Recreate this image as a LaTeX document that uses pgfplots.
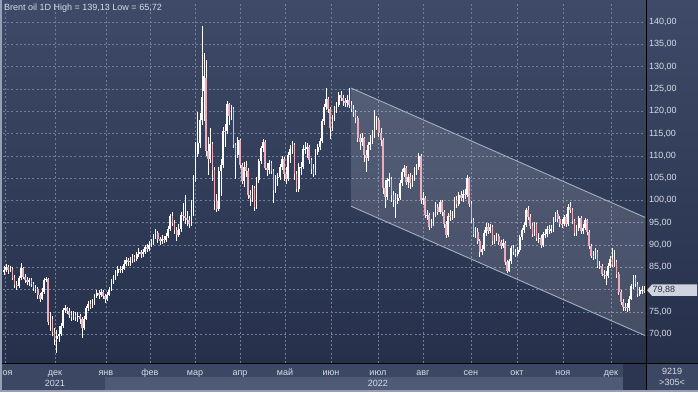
\documentclass[border=0pt]{standalone}
\usepackage{pgfplots}
\usepackage{pgfplotstable}
\pgfplotsset{compat=1.18}
\usepackage{fontspec}
\setmainfont{Liberation Sans}
\definecolor{bgtop}{RGB}{62,74,103}
\definecolor{bgbot}{RGB}{38,48,75}
\definecolor{strip}{RGB}{60,72,99}
\definecolor{scroll}{RGB}{78,90,118}
\definecolor{darkblk}{RGB}{44,54,80}
\definecolor{gridc}{RGB}{112,126,154}
\definecolor{labc}{RGB}{214,220,232}
\definecolor{downc}{RGB}{236,172,188}
\definecolor{chanline}{RGB}{165,174,192}
\definecolor{bordc}{RGB}{150,160,180}
\definecolor{tagc}{RGB}{208,212,222}
\definecolor{tagtext}{RGB}{40,48,70}

\pgfplotstableread{
o h l c
84.0 85.2 83.3 84.4
84.4 85.8 84.0 85.0
85.0 85.5 83.6 84.5
84.5 85.4 83.9 84.7
84.7 85.1 82.1 82.7
82.7 83.2 80.3 81.0
81.0 81.9 79.8 80.8
80.8 83.0 80.4 82.5
82.5 85.9 82.1 84.8
84.8 85.0 82.4 82.9
82.9 83.6 81.5 82.2
82.2 82.9 81.0 81.8
81.8 82.6 80.9 82.1
82.1 82.5 80.6 81.2
81.2 81.7 79.6 80.3
80.3 81.0 79.2 80.2
80.2 80.6 78.0 78.8
78.8 79.3 77.2 78.0
78.0 80.3 77.6 79.5
79.5 82.7 79.1 82.2
82.2 82.9 81.6 82.3
82.3 82.6 72.1 72.7
72.7 74.9 70.7 73.4
73.4 74.0 69.5 70.6
70.6 71.5 67.5 68.9
68.9 71.0 65.7 69.7
69.7 71.8 68.2 70.0
70.0 72.6 69.5 71.9
71.9 75.9 71.5 75.4
75.4 76.6 74.7 75.8
75.8 76.2 74.5 75.2
75.2 75.8 73.6 74.4
74.4 75.1 72.9 73.9
73.9 75.3 73.2 74.4
74.4 75.0 73.0 73.9
73.9 74.9 72.8 74.1
74.1 74.6 72.2 73.5
73.5 73.9 69.2 71.5
71.5 74.0 71.0 73.5
73.5 76.3 73.1 75.8
75.8 77.4 75.2 76.8
76.8 77.6 75.6 76.2
76.2 77.9 75.8 77.0
77.0 79.1 76.6 78.6
78.6 80.0 78.1 79.3
79.3 79.8 78.0 78.9
78.9 80.2 78.4 79.5
79.5 80.0 77.9 78.5
78.5 79.0 77.1 77.8
77.8 79.4 77.4 78.9
78.9 80.6 78.5 80.0
80.0 82.4 79.6 81.9
81.9 83.3 81.3 82.7
82.7 84.3 82.1 83.7
83.7 85.2 83.0 84.7
84.7 85.4 83.7 84.5
84.5 85.3 83.8 84.7
84.7 86.7 84.3 85.8
85.8 87.3 85.2 86.6
86.6 87.0 85.3 86.1
86.1 87.2 85.4 86.5
86.5 88.0 86.0 87.2
87.2 87.8 86.1 86.8
86.8 88.5 86.3 87.9
87.9 89.3 87.4 88.4
88.4 88.9 87.1 87.9
87.9 89.2 87.3 88.5
88.5 90.1 88.0 89.5
89.5 90.3 88.5 89.2
89.2 90.8 88.6 90.1
90.1 91.4 89.6 90.5
90.5 92.5 90.0 91.9
91.9 93.5 91.3 92.6
92.6 93.2 90.5 91.3
91.3 91.9 89.9 90.9
90.9 92.3 90.2 91.4
91.4 92.1 90.4 91.2
91.2 92.8 90.7 92.0
92.0 94.2 91.6 93.5
93.5 97.0 93.1 96.5
96.5 97.3 94.3 95.0
95.0 95.6 92.5 93.3
93.3 94.0 91.0 92.3
92.3 94.6 91.8 93.5
93.5 97.4 93.0 96.8
96.8 99.5 95.3 96.5
96.5 101.3 94.8 96.0
96.0 97.6 94.2 95.5
95.5 96.6 93.7 94.8
94.8 100.0 94.3 97.0
97.0 105.8 96.5 104.9
104.9 113.0 104.2 110.5
110.5 119.8 109.8 112.9
112.9 119.5 111.8 118.1
118.1 139.1 117.0 123.2
124.5 133.0 117.7 128.0
127.5 131.5 110.0 111.1
111.1 114.2 105.6 109.3
109.3 116.2 108.3 112.7
112.7 113.0 104.3 106.9
106.9 107.5 97.8 99.9
99.9 101.5 97.4 98.0
98.0 107.6 97.6 106.6
106.6 109.3 101.0 107.9
107.9 116.4 107.2 115.6
115.6 117.2 111.9 115.5
115.5 122.2 114.9 121.6
121.6 121.9 117.0 119.0
119.0 121.4 118.1 120.6
120.6 120.9 111.8 112.5
112.5 112.8 104.8 110.2
110.2 114.3 109.6 113.5
113.5 113.8 107.2 107.9
107.9 108.3 103.7 104.4
104.4 108.6 102.9 107.5
107.5 108.9 105.3 106.6
106.6 107.2 100.3 101.1
101.1 102.4 98.8 100.6
100.6 103.5 99.6 102.8
102.8 103.2 97.6 98.5
98.5 105.2 98.0 104.6
104.6 109.3 103.9 108.8
108.8 112.1 108.1 111.7
111.7 113.8 110.9 113.2
113.2 113.6 106.9 107.3
107.3 108.3 105.4 106.8
106.8 109.1 106.0 108.3
108.3 108.9 105.9 106.7
106.7 107.0 99.5 102.3
102.3 105.6 101.6 105.0
105.0 106.2 103.2 105.3
105.3 108.1 104.6 107.6
107.6 109.9 106.9 109.3
109.3 109.8 104.4 105.9
105.9 107.6 103.6 104.9
104.9 110.9 104.3 110.1
110.1 112.4 108.3 111.6
111.6 113.3 110.4 112.4
112.4 112.8 104.6 105.9
105.9 106.5 101.8 102.5
102.5 108.3 101.9 107.5
107.5 108.5 105.7 107.5
107.5 112.4 107.0 111.6
111.6 113.0 110.3 111.6
111.6 112.9 109.6 112.0
112.0 112.4 108.2 109.1
109.1 109.6 105.9 107.0
107.0 108.1 105.3 106.0
106.0 111.5 105.6 110.9
110.9 112.7 110.1 112.0
112.0 114.0 111.3 113.4
113.4 118.3 112.8 117.7
117.7 121.6 117.0 121.0
121.0 125.3 120.3 122.8
122.8 123.2 119.5 120.6
120.6 120.9 113.8 116.3
116.3 119.2 115.6 118.5
118.5 121.2 117.8 120.6
120.6 122.0 119.6 121.4
121.4 124.2 120.9 123.6
123.6 124.5 122.2 123.0
123.0 123.7 121.1 122.3
122.3 123.0 120.9 121.8
121.8 123.6 121.0 122.5
122.5 125.2 120.8 121.5
121.5 122.3 119.9 120.5
120.5 121.4 118.6 119.8
119.8 120.3 117.4 118.5
118.5 119.0 113.2 114.1
114.1 114.9 111.4 113.1
113.1 115.0 112.1 113.9
113.9 114.3 108.7 110.1
110.1 111.2 106.4 109.6
109.6 113.2 108.9 112.5
112.5 114.6 111.4 113.1
113.1 115.7 112.6 114.8
114.8 120.2 114.1 117.9
117.9 118.9 115.8 118.0
118.0 118.4 114.2 115.0
115.0 116.3 112.2 113.5
113.5 113.9 101.4 102.8
102.8 104.5 98.3 100.7
100.7 105.1 100.1 104.6
104.6 106.1 102.9 104.7
104.7 105.2 99.6 101.2
101.2 102.0 98.5 100.2
100.2 101.6 96.1 99.8
99.8 101.4 99.1 100.5
100.5 104.5 100.0 103.9
103.9 107.0 103.3 106.3
106.3 108.0 105.3 107.3
107.3 107.7 103.4 104.2
104.2 105.9 102.7 105.2
105.2 106.1 102.6 103.9
103.9 105.7 103.1 105.1
105.1 107.4 104.4 106.6
106.6 108.2 105.7 107.5
107.5 110.6 106.9 110.0
110.0 110.3 99.2 100.0
100.0 101.8 98.9 100.5
100.5 101.0 96.1 96.8
96.8 97.9 95.5 96.8
96.8 97.2 93.4 94.1
94.1 95.8 93.8 94.9
94.9 97.3 94.3 96.7
96.7 99.7 96.2 98.6
98.6 99.2 96.8 97.4
97.4 100.2 96.9 99.6
99.6 100.0 96.6 97.4
97.4 97.8 93.9 94.7
94.7 95.3 91.6 92.3
92.3 97.1 91.9 96.6
96.6 97.8 95.4 96.5
96.5 97.6 95.5 96.7
96.7 100.7 96.1 100.2
100.2 101.0 98.4 99.3
99.3 101.9 98.8 101.2
101.2 102.1 99.8 100.5
100.5 102.4 99.7 101.5
101.5 102.5 100.4 101.2
101.2 105.6 100.8 105.1
105.1 105.3 98.6 99.3
99.3 99.9 94.9 95.6
95.6 96.0 91.7 92.4
92.4 94.0 91.6 93.0
93.0 93.8 90.2 91.0
91.0 91.4 87.3 88.5
88.5 90.0 87.8 89.2
89.2 93.4 88.7 92.8
92.8 95.0 92.1 94.0
94.0 94.9 92.4 93.2
93.2 94.8 92.6 94.1
94.1 94.5 90.1 90.8
90.8 92.2 90.2 91.4
91.4 92.8 90.9 92.0
92.0 92.4 89.9 90.6
90.6 91.2 89.0 89.8
89.8 91.4 89.3 90.5
90.5 90.9 85.6 86.2
86.2 86.7 83.7 84.1
84.1 86.9 83.9 86.3
86.3 89.8 85.8 89.3
89.3 90.1 87.8 88.5
88.5 89.2 87.3 88.0
88.0 89.6 87.5 88.9
88.9 92.3 88.4 91.8
91.8 93.9 91.2 93.4
93.4 95.1 92.8 94.4
94.4 98.2 94.1 97.9
97.9 98.7 95.5 96.2
96.2 96.9 93.6 94.3
94.3 95.0 91.8 92.5
92.5 95.2 92.0 94.6
94.6 95.0 91.0 91.6
91.6 92.6 90.4 91.6
91.6 92.2 89.4 90.0
90.0 92.9 89.6 92.4
92.4 93.6 91.5 92.4
92.4 94.2 91.9 93.5
93.5 94.4 92.5 93.3
93.3 94.5 92.6 93.5
93.5 96.2 92.9 95.7
95.7 97.5 95.1 97.0
97.0 97.8 95.2 95.8
95.8 96.5 94.1 94.8
94.8 95.8 93.9 94.7
94.7 96.8 94.2 96.2
96.2 96.9 94.0 94.7
94.7 99.1 94.3 98.6
98.6 99.6 97.2 97.9
97.9 98.4 94.8 95.4
95.4 95.9 92.1 92.7
92.7 94.5 92.0 93.7
93.7 96.6 93.2 96.0
96.0 96.5 92.5 93.1
93.1 94.7 92.4 93.9
93.9 96.1 93.3 95.5
95.5 95.9 92.3 93.0
93.0 93.4 89.1 89.8
89.8 90.3 87.0 87.6
87.6 88.6 86.6 87.5
87.5 89.3 86.9 88.4
88.4 88.9 84.8 85.4
85.4 86.4 84.7 85.3
85.3 85.8 83.0 83.6
83.6 84.3 82.4 83.2
83.2 84.1 81.0 83.0
83.0 86.0 82.6 85.4
85.4 87.6 84.9 86.9
86.9 89.3 85.0 85.6
85.6 88.9 85.1 86.2
86.2 86.7 82.5 83.5
83.5 83.9 78.8 79.4
79.4 80.0 76.5 77.2
77.2 77.9 75.3 76.2
76.2 77.1 75.1 76.1
76.1 76.9 74.9 75.8
75.8 78.6 75.3 78.0
78.0 81.2 77.6 80.7
80.7 83.3 80.2 82.7
82.7 83.3 80.6 81.2
81.2 81.6 78.4 79.0
79.0 80.6 78.6 79.8
79.8 80.9 79.1 80.0
80.0 80.7 79.3 79.88
}\ohlc

\begin{document}
\begin{tikzpicture}[x=1pt,y=1pt]
\useasboundingbox (0,0) rectangle (698,392);
% backgrounds
\shade[top color=bgtop, bottom color=bgbot] (0,29) rectangle (698,392);
\fill[strip] (0,0) rectangle (698,29);
\fill[scroll] (105,2) rectangle (623,15);
\fill[darkblk] (623,2) rectangle (646,29);

\begin{axis}[
  at={(3pt,29pt)}, anchor=south west,
  scale only axis, width=642pt, height=360pt,
  xmin=-0.5, xmax=304.5, ymin=63.54, ymax=144.26,
  axis line style={draw=none},
  major tick length=0pt,
  clip mode=individual,
  xtick={0.45,24.2,48.4,69.3,90.7,112.1,133.5,155.3,177.6,199,221.8,243.7,265.5,288.3},
  xticklabels={ноя,дек,янв,фев,мар,апр,май,июн,июл,авг,сен,окт,ноя,дек},
  xticklabel style={font=\fontsize{9}{10.5}\selectfont, text=labc, anchor=base, yshift=-12.8pt},
  ytick={70,75,...,140},
  yticklabels={{70,00},{75,00},{},{85,00},{90,00},{95,00},{100,00},{105,00},{110,00},{115,00},{120,00},{125,00},{130,00},{135,00},{140,00}},
  yticklabel pos=right,
  yticklabel style={font=\fontsize{9}{10}\selectfont, text=labc, anchor=west, xshift=0.5pt},
  grid=major,
  grid style={draw=gridc, line width=0.55pt, dash pattern=on 2pt off 2.2pt},
  candle/.style={only marks, mark=*, mark size=0.1pt,
    mark options={draw=none, fill=none, draw opacity=0, fill opacity=0}, forget plot},
]
% channel
\addplot[fill=white, fill opacity=0.14, draw=none, forget plot]
  coordinates {(164.8,125.2) (304.5,96.2) (304.5,69.7) (164.8,98.7)} -- cycle;
\addplot[chanline, line width=0.9pt, forget plot] coordinates {(164.8,125.2) (304.5,96.2)};
\addplot[chanline, line width=0.9pt, forget plot] coordinates {(164.8,98.7) (304.5,69.7)};
% wicks
\addplot[candle,
  error bars/.cd, y dir=minus, y explicit, error mark=none,
  error bar style={draw=white, line width=0.55pt}]
  table[x expr=\coordindex, y=h, y error minus expr=\thisrow{h}-\thisrow{l}] {\ohlc};
% up bodies
\addplot[candle,
  restrict expr to domain={\thisrow{c}-\thisrow{o}}{0:1000},
  error bars/.cd, y dir=minus, y explicit, error mark=none,
  error bar style={draw=white, line width=1.7pt}]
  table[x expr=\coordindex, y=c, y error minus expr={max(\thisrow{c}-\thisrow{o},0.25)}] {\ohlc};
% down bodies
\addplot[candle,
  restrict expr to domain={\thisrow{c}-\thisrow{o}}{-1000:-0.001},
  error bars/.cd, y dir=minus, y explicit, error mark=none,
  error bar style={draw=downc, line width=1.7pt}]
  table[x expr=\coordindex, y=o, y error minus expr={\thisrow{o}-\thisrow{c}}] {\ohlc};
% year labels under the month labels
\node[anchor=base, text=labc, font=\fontsize{9}{10}\selectfont, yshift=-23pt] at (axis cs:24.2,63.54) {2021};
\node[anchor=base, text=labc, font=\fontsize{9}{10}\selectfont, yshift=-23pt] at (axis cs:177.6,63.54) {2022};
\end{axis}

% separators and border
\draw[black, line width=1pt] (0,29) -- (698,29);
\draw[black, line width=1pt] (646.5,0) -- (646.5,392);
\fill[bordc] (0,0) rectangle (698,2);
\fill[bordc] (0,0) rectangle (1.5,392);

% title
\node[anchor=west, inner sep=0pt, text=labc, font=\fontsize{9}{10}\selectfont] at (4,383.5) {Brent oil 1D High = 139,13 Low = 65,72};

% last price tag
\fill[tagc] (647,101.9) -- (652,107.6) -- (697,107.6) -- (697,96.2) -- (652,96.2) -- cycle;
\node[anchor=west, inner sep=0pt, text=tagtext, font=\fontsize{9}{10}\selectfont] at (652.5,101.9) {79,88};

% bottom right counters
\node[inner sep=0pt, text=labc, font=\fontsize{9}{10}\selectfont] at (672,20.5) {9219};
\node[inner sep=0pt, text=labc, font=\fontsize{9}{10}\selectfont] at (672,9.5) {>305<};
\end{tikzpicture}
\end{document}
